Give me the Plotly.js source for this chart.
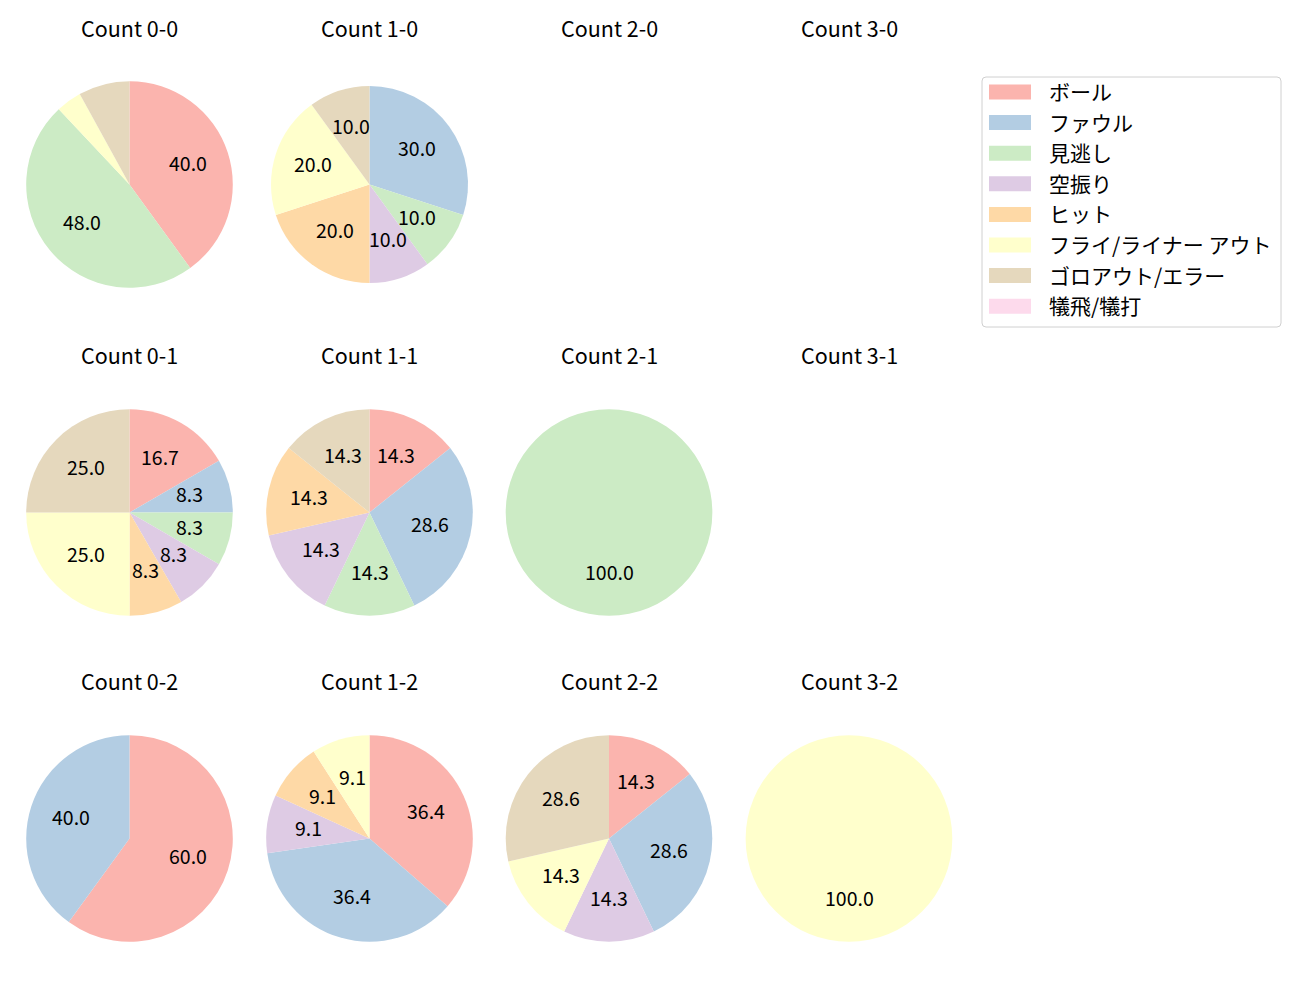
<!DOCTYPE html>
<html>
<head>
<meta charset="utf-8">
<script src="https://cdn.plot.ly/plotly-3.0.1.min.js"></script>
<style>html,body{margin:0;padding:0;background:#fff;}</style>
</head>
<body>
<div id="chart" style="width:1300px;height:1000px;"></div>
<script>
// ---- data ----
const categories = ['ボール', 'ファウル', '見逃し', '空振り', 'ヒット', 'フライ/ライナー アウト', 'ゴロアウト/エラー', '犠飛/犠打'];
const colors = ['#fbb4ae', '#b3cde3', '#ccebc5', '#decbe4', '#fed9a6', '#ffffcc', '#e5d8bd', '#fddaec'];
const panelTitles = ['Count 0-0', 'Count 1-0', 'Count 2-0', 'Count 3-0',
                     'Count 0-1', 'Count 1-1', 'Count 2-1', 'Count 3-1',
                     'Count 0-2', 'Count 1-2', 'Count 2-2', 'Count 3-2'];
const count00 = [10, 0, 12, 0, 0, 1, 2, 0];
const count10 = [0, 3, 1, 1, 2, 2, 1, 0];
const count20 = [];
const count30 = [];
const count01 = [2, 1, 1, 1, 1, 3, 3, 0];
const count11 = [1, 2, 1, 1, 1, 0, 1, 0];
const count21 = [0, 0, 1, 0, 0, 0, 0, 0];
const count31 = [];
const count02 = [3, 2, 0, 0, 0, 0, 0, 0];
const count12 = [4, 4, 0, 1, 1, 1, 0, 0];
const count22 = [1, 2, 0, 1, 0, 1, 2, 0];
const count32 = [0, 0, 0, 0, 0, 1, 0, 0];
const panelData = [count00, count10, count20, count30,
                   count01, count11, count21, count31,
                   count02, count12, count22, count32];

// ---- layout constants ----
const W = 1300, H = 1000;
const colCenters = [129.5, 369.5, 609, 849];
const rowCenters = [184.5, 512.5, 838.5];
const titleY = [29, 356, 682];
const baseR = 103.3;
const radiusOverride = {1: 98.5};
const CJK = '"Noto Sans CJK JP", "Noto Sans", sans-serif';
const labelSize = 19.5;
const titleSize = 21.5;
const legendSize = 21;
const minLabelPct = 8.2;

const traces = [];
const annotations = [];
const shapes = [];

panelData.forEach((vals, idx) => {
  const col = idx % 4, row = Math.floor(idx / 4);
  const cx = colCenters[col], cy = rowCenters[row];
  const r = radiusOverride[idx] !== undefined ? radiusOverride[idx] : baseR;
  annotations.push({
    text: panelTitles[idx], x: cx / W, y: 1 - titleY[row] / H, xref: 'paper', yref: 'paper',
    xanchor: 'center', yanchor: 'middle', showarrow: false, yshift: 2,
    font: {family: CJK, size: titleSize, color: '#000'}
  });
  const total = vals.reduce((a, b) => a + b, 0);
  if (!total) return;
  traces.push({
    type: 'pie', values: vals, labels: categories, sort: false, direction: 'clockwise', rotation: 0,
    marker: {colors: colors, line: {width: 0}}, textinfo: 'none', hoverinfo: 'label+percent',
    showlegend: false,
    domain: {x: [(cx - r) / W, (cx + r) / W], y: [1 - (cy + r) / H, 1 - (cy - r) / H]}
  });
  let cum = 0;
  vals.forEach((v) => {
    if (v > 0) {
      const pct = v / total * 100;
      const mid = (cum + v / 2) / total * 2 * Math.PI;
      if (pct >= minLabelPct) {
        const px = cx + 0.6 * r * Math.sin(mid);
        const py = cy - 0.6 * r * Math.cos(mid);
        annotations.push({
          text: pct.toFixed(1), x: px / W, y: 1 - py / H, xref: 'paper', yref: 'paper',
          xanchor: 'center', yanchor: 'middle', showarrow: false, yshift: 2.5,
          font: {family: CJK, size: labelSize, color: '#000'}
        });
      }
    }
    cum += v;
  });
});

// ---- legend (manual, matplotlib style) ----
const lg = {x0: 982, x1: 1281, y0: 77, y1: 327, rad: 4};
const px2x = (p) => p / W, px2y = (p) => 1 - p / H;
shapes.push({
  type: 'path', xref: 'paper', yref: 'paper',
  path: `M ${px2x(lg.x0 + lg.rad)} ${px2y(lg.y0)} L ${px2x(lg.x1 - lg.rad)} ${px2y(lg.y0)} Q ${px2x(lg.x1)} ${px2y(lg.y0)} ${px2x(lg.x1)} ${px2y(lg.y0 + lg.rad)} L ${px2x(lg.x1)} ${px2y(lg.y1 - lg.rad)} Q ${px2x(lg.x1)} ${px2y(lg.y1)} ${px2x(lg.x1 - lg.rad)} ${px2y(lg.y1)} L ${px2x(lg.x0 + lg.rad)} ${px2y(lg.y1)} Q ${px2x(lg.x0)} ${px2y(lg.y1)} ${px2x(lg.x0)} ${px2y(lg.y1 - lg.rad)} L ${px2x(lg.x0)} ${px2y(lg.y0 + lg.rad)} Q ${px2x(lg.x0)} ${px2y(lg.y0)} ${px2x(lg.x0 + lg.rad)} ${px2y(lg.y0)} Z`,
  line: {color: '#d0d0d0', width: 1}, fillcolor: 'rgba(255,255,255,0.8)'
});
categories.forEach((c, i) => {
  const yc = 92 + i * 30.6;
  shapes.push({
    type: 'rect', xref: 'paper', yref: 'paper',
    x0: px2x(989), x1: px2x(1031), y0: px2y(yc - 7.5), y1: px2y(yc + 7.5),
    fillcolor: colors[i], line: {width: 0}
  });
  annotations.push({
    text: c, x: px2x(1046.5), y: px2y(yc), xref: 'paper', yref: 'paper',
    xanchor: 'left', yanchor: 'middle', showarrow: false, yshift: 1,
    font: {family: CJK, size: legendSize, color: '#000'}
  });
});

const layout = {
  width: W, height: H, margin: {l: 0, r: 0, t: 0, b: 0},
  paper_bgcolor: '#fff', plot_bgcolor: '#fff', showlegend: false,
  annotations: annotations, shapes: shapes,
  font: {family: CJK}
};
Plotly.newPlot('chart', traces, layout, {staticPlot: true});
</script>
</body>
</html>
